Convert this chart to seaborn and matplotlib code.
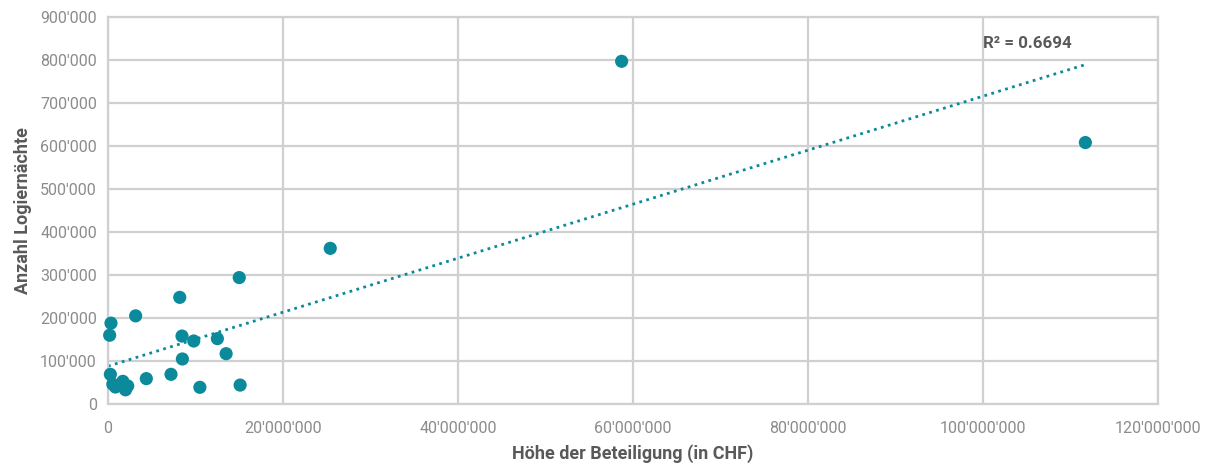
import numpy as np
import pandas as pd
import seaborn as sns
import matplotlib
matplotlib.use("Agg")
import matplotlib.pyplot as plt
from matplotlib.ticker import FuncFormatter, MultipleLocator

# Data (Höhe der Beteiligung in CHF, Anzahl Logiernächte)
beteiligung = [25.4e6, 15.0e6, 8.2e6, 3.16e6, 0.34e6, 0.19e6, 8.46e6, 9.8e6, 12.5e6,
               13.5e6, 8.5e6, 0.27e6, 4.38e6, 7.2e6, 10.5e6, 15.1e6, 0.55e6, 0.85e6,
               1.7e6, 2.25e6, 2.0e6, 58.7e6, 111.7e6]
logiernaechte = [362000, 294000, 248000, 205000, 188000, 160000, 158000, 146500, 152000,
                 117000, 104700, 69000, 59000, 69000, 38800, 44000, 46000, 39500,
                 52700, 42000, 33000, 797000, 608000]
r2_text = "R² = 0.6694"
x_label = "Höhe der Beteiligung (in CHF)"
y_label = "Anzahl Logiernächte"

df = pd.DataFrame({"x": beteiligung, "y": logiernaechte})

sns.set_theme(style="white")
plt.rcParams["font.family"] = ["Roboto", "DejaVu Sans"]

color = "#0B8A9B"
fig, ax = plt.subplots(figsize=(12.16, 4.68), dpi=100)
fig.subplots_adjust(left=108/1216, right=1158/1216, top=1-17/468, bottom=1-404/468)

ax.grid(True, color="#d0d0d0", linewidth=1.6)
ax.set_axisbelow(True)

# Linear trendline
coef = np.polyfit(df["x"], df["y"], 1)
xs = np.array([0, df["x"].max()])
ax.plot(xs, np.polyval(coef, xs), linestyle=(0, (1, 1.6)), color=color, linewidth=2,
        zorder=2, clip_on=False)

sns.scatterplot(data=df, x="x", y="y", ax=ax, color=color, s=90, edgecolor="none",
                zorder=3, clip_on=False)

ax.set_xlim(0, 120e6)
ax.set_ylim(0, 900000)
ax.xaxis.set_major_locator(MultipleLocator(20e6))
ax.yaxis.set_major_locator(MultipleLocator(100000))
fmt = FuncFormatter(lambda v, p: f"{int(round(v)):,}".replace(",", "'"))
ax.xaxis.set_major_formatter(fmt)
ax.yaxis.set_major_formatter(fmt)
ax.tick_params(axis="both", colors="#8c8c8c", labelsize=11.5, length=0)
ax.tick_params(axis="x", pad=12)
ax.tick_params(axis="y", pad=8)
for s in ax.spines.values():
    s.set_visible(True)
    s.set_color("#d0d0d0")
    s.set_linewidth(1.6)

ax.set_xlabel(x_label, fontsize=13, fontweight="bold", color="#595959", labelpad=6)
ax.set_ylabel(y_label, fontsize=13, fontweight="bold", color="#595959", labelpad=6)

ax.text(100e6, 838000, r2_text, fontsize=12.2, fontweight="bold", color="#595959",
        ha="left", va="center")

fig.savefig("out.png", dpi=100)
